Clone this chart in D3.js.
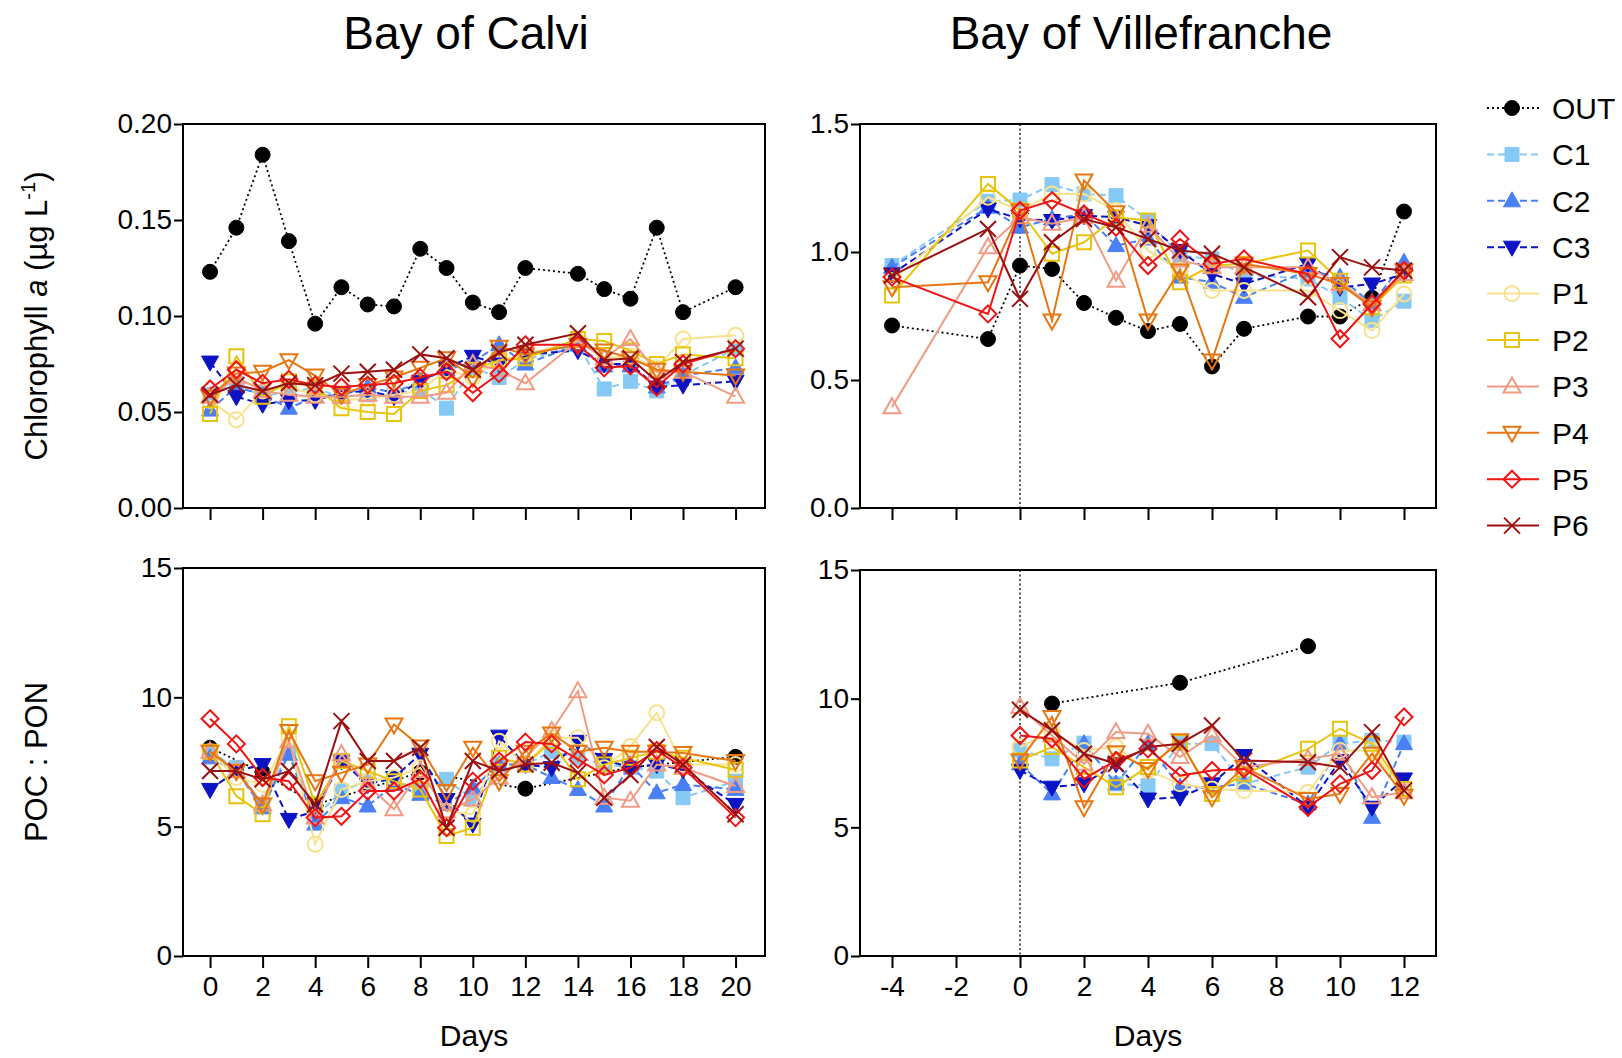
<!DOCTYPE html>
<html>
<head>
<meta charset="utf-8">
<script src="https://cdn.jsdelivr.net/npm/d3@7"></script>
<style>
body { margin: 0; background: #fff; }
svg text { font-family: "Liberation Sans", Arial, sans-serif; fill: #000; }
</style>
</head>
<body>
<svg id="chart" width="1622" height="1058"></svg>
<script>
// series, in drawing order
const seriesNames = ["OUT", "C1", "C2", "C3", "P1", "P2", "P3", "P4", "P5", "P6"]

// Bay of Calvi, chlorophyll a (ug/L)
const calviChlDays = [0, 1, 2, 3, 4, 5, 6, 7, 8, 9, 10, 11, 12, 14, 15, 16, 17, 18, 20]
const calviChl = [
    [0.123, 0.146, 0.184, 0.139, 0.096, 0.115, 0.106, 0.105, 0.135, 0.125, 0.107, 0.102, 0.125, 0.122, 0.114, 0.109, 0.146, 0.102, 0.115],
    [0.059, 0.065, 0.058, 0.061, 0.062, 0.058, 0.059, 0.059, 0.062, 0.052, 0.073, 0.068, 0.077, 0.085, 0.062, 0.066, 0.061, 0.069, 0.083],
    [0.051, 0.063, 0.059, 0.052, 0.058, 0.059, 0.063, 0.060, 0.066, 0.072, 0.076, 0.085, 0.075, 0.085, 0.074, 0.074, 0.063, 0.069, 0.073],
    [0.076, 0.058, 0.054, 0.056, 0.056, 0.060, 0.061, 0.058, 0.066, 0.073, 0.079, 0.075, 0.080, 0.082, 0.075, 0.075, 0.063, 0.064, 0.066],
    [0.056, 0.046, 0.061, 0.063, 0.059, 0.056, 0.057, 0.059, 0.061, 0.072, 0.068, 0.077, 0.080, 0.087, 0.078, 0.079, 0.073, 0.088, 0.090],
    [0.049, 0.079, 0.058, 0.066, 0.063, 0.052, 0.050, 0.049, 0.061, 0.064, 0.072, 0.077, 0.078, 0.088, 0.087, 0.082, 0.075, 0.080, 0.078],
    [0.058, 0.068, 0.061, 0.059, 0.058, 0.058, 0.059, 0.058, 0.058, 0.060, 0.075, 0.072, 0.065, 0.087, 0.078, 0.088, 0.071, 0.071, 0.058],
    [0.058, 0.070, 0.071, 0.077, 0.069, 0.059, 0.064, 0.068, 0.073, 0.078, 0.068, 0.084, 0.080, 0.085, 0.082, 0.078, 0.072, 0.071, 0.069],
    [0.062, 0.072, 0.065, 0.067, 0.064, 0.063, 0.064, 0.065, 0.068, 0.071, 0.060, 0.070, 0.085, 0.085, 0.073, 0.074, 0.063, 0.075, 0.083],
    [0.059, 0.064, 0.061, 0.065, 0.064, 0.070, 0.071, 0.072, 0.080, 0.078, 0.072, 0.081, 0.085, 0.091, 0.077, 0.078, 0.066, 0.076, 0.083]
]

// Bay of Calvi, POC : PON
const calviPocDays = [0, 1, 2, 3, 4, 5, 6, 7, 8, 9, 10, 11, 12, 13, 14, 15, 16, 17, 18, 20]
const calviPoc = [
    [8.05, null, 7.1, null, 5.85, null, null, null, 7.1, null, null, null, 6.47, null, null, null, 7.3, null, null, 7.7],
    [7.9, 7.28, 5.86, 7.9, 5.35, 6.38, 6.76, 6.76, 6.44, 6.83, 6.05, 7.4, 7.4, 7.9, 7.66, 7.4, 7.28, 7.15, 6.12, 6.76],
    [7.66, 7.15, 5.73, 7.8, 5.1, 6.12, 5.8, 6.63, 6.25, 5.86, 6.5, 7.4, 7.4, 6.9, 6.44, 5.8, 7.4, 6.31, 6.63, 6.44],
    [6.44, 7.15, 7.4, 5.28, 5.6, 7.54, 6.63, 6.9, 7.8, 6.05, 5.1, 8.5, 7.4, 7.28, 8.3, 7.6, 7.28, 7.4, 7.2, 5.86],
    [7.9, 6.9, 6.63, 8.44, 4.32, 6.44, 6.76, 6.9, 7.28, 5.6, 5.48, 8.3, 7.4, 8.44, 8.44, 7.28, 8.1, 9.4, 7.4, 7.4],
    [7.9, 6.18, 5.48, 8.88, 5.86, 7.54, 7.15, 6.76, 6.44, 4.64, 4.96, 7.66, 7.4, 8.3, 6.83, 7.4, 7.66, 7.9, 7.66, 7.2],
    [7.9, 7.15, 5.86, 8.3, 5.35, 7.8, 6.6, 5.67, 7.15, 5.6, 6.05, 6.9, 7.66, 8.7, 10.24, 6.12, 6.0, 7.4, 7.28, 6.57],
    [7.9, 7.15, 5.86, 8.7, 6.76, 7.08, 7.4, 8.95, 8.1, 6.38, 8.05, 6.76, 7.9, 8.6, 7.9, 8.05, 7.9, 7.9, 7.85, 7.54],
    [9.17, 8.2, 6.9, 6.76, 5.35, 5.4, 6.38, 6.38, 6.83, 4.96, 6.76, 7.54, 8.27, 8.2, 7.6, 7.0, 7.28, 7.95, 7.28, 5.35],
    [7.15, 7.15, 6.83, 7.15, 5.86, 9.08, 7.54, 7.54, 8.05, 4.96, 7.54, 7.15, 7.4, 7.47, 7.08, 6.12, 7.0, 8.08, 7.4, 5.48]
]

// Bay of Villefranche, chlorophyll a (ug/L)
const villeChlDays = [-4, -1, 0, 1, 2, 3, 4, 5, 6, 7, 9, 10, 11, 12]
const villeChl = [
    [0.713, 0.660, 0.947, 0.934, 0.801, 0.743, 0.691, 0.719, 0.553, 0.700, 0.748, 0.748, 0.821, 1.158],
    [0.947, 1.198, 1.203, 1.263, 1.227, 1.220, 1.123, 0.986, 0.973, 0.912, 0.895, 0.823, 0.732, 0.808],
    [0.940, 1.175, 1.097, 1.129, 1.149, 1.025, 1.051, 0.902, 0.882, 0.823, 0.928, 0.902, 0.797, 0.960],
    [0.914, 1.168, 1.129, 1.123, 1.142, 1.136, 1.103, 1.006, 0.914, 0.875, 0.954, 0.862, 0.875, 0.914],
    [0.888, 1.214, 1.162, 1.227, 1.227, 1.162, 1.006, 0.928, 0.850, 0.850, 0.850, 0.771, 0.693, 0.836],
    [0.830, 1.266, 1.162, 0.993, 1.038, 1.136, 1.123, 0.882, 0.947, 0.954, 1.006, 0.888, 0.784, 0.908],
    [0.394, 1.019, 1.136, 1.110, 1.136, 0.888, 1.103, 0.967, 0.940, 0.940, 0.940, 0.875, 0.797, 0.914],
    [0.862, 0.882, 1.162, 0.732, 1.279, 1.155, 0.732, 0.928, 0.576, 0.954, 0.914, 0.875, 0.784, 0.928],
    [0.902, 0.758, 1.162, 1.201, 1.149, 1.097, 0.947, 1.051, 0.954, 0.973, 0.914, 0.661, 0.797, 0.928],
    [0.908, 1.090, 0.817, 1.038, 1.129, 1.097, 1.051, 1.006, 0.993, 0.940, 0.823, 0.980, 0.940, 0.928]
]

// Bay of Villefranche, POC : PON
const villePocDays = [0, 1, 2, 3, 4, 5, 6, 7, 9, 10, 11, 12]
const villePoc = [
    [null, 9.81, null, null, null, 10.62, null, null, 12.04, null, null, null],
    [7.99, 7.66, 8.27, 6.69, 6.62, 8.25, 8.25, 6.69, 7.34, 8.25, 8.38, 8.31],
    [7.47, 6.30, 8.25, 6.69, 8.25, 6.56, 6.56, 6.69, 5.91, 8.25, 5.39, 8.25],
    [7.21, 6.56, 6.69, 7.47, 6.10, 6.17, 6.69, 7.79, 5.78, 7.60, 5.78, 6.88],
    [8.12, 8.70, 7.99, 8.12, 7.21, 6.69, 6.49, 6.43, 6.36, 7.99, 7.99, 6.43],
    [7.60, 8.12, 7.34, 6.56, 7.34, 8.31, 6.30, 7.08, 8.05, 8.83, 8.25, 6.49],
    [9.68, 8.57, 7.47, 8.70, 8.64, 7.73, 8.57, 7.34, 7.66, 7.86, 6.17, 6.36],
    [7.60, 9.29, 5.78, 7.92, 7.27, 8.38, 6.17, 7.34, 6.10, 6.30, 7.86, 6.23],
    [8.57, 8.44, 6.88, 7.60, 8.05, 7.01, 7.21, 7.27, 5.78, 6.69, 7.21, 9.29],
    [9.57, 8.77, 7.86, 7.47, 8.12, 8.25, 8.96, 7.60, 7.53, 7.34, 8.70, 6.43]
]

const calviXTicks = d3.range(0, 21, 2)
const villeXTicks = d3.range(-4, 13, 2)
const chlCalviYTicks = [0, 0.05, 0.10, 0.15, 0.20]
const chlVilleYTicks = [0, 0.5, 1.0, 1.5]
const pocYTicks = [0, 5, 10, 15]

// styles
const seriesColors = ["#000000", "#86c9f5", "#4a7ff5", "#0b13c4", "#f9e28e", "#e8c40c", "#f29b83", "#e67712", "#f01414", "#9b1010"]
const seriesDash = ["2,3", "7,4", "7,4", "7,4", null, null, null, null, null, null]
const seriesShapes = ["circle", "square", "triangle", "triangleDown", "circle", "square", "triangle", "triangleDown", "diamond", "x"]
const seriesFilled = [true, true, true, true, false, false, false, false, false, false]

var markerPath = function (shape) {
    switch (shape) {
        case "circle": return "M7.5,0A7.5,7.5,0,1,1,-7.5,0A7.5,7.5,0,1,1,7.5,0Z"
        case "square": return "M-7,-7H7V7H-7Z"
        case "triangle": return "M0,-9L8.5,6L-8.5,6Z"
        case "triangleDown": return "M0,9L8.5,-6L-8.5,-6Z"
        case "diamond": return "M0,-8.5L8.5,0L0,8.5L-8.5,0Z"
        case "x": return "M-8,-8L8,8M-8,8L8,-8"
    }
}

const svg = d3.select("#chart")
const font = "'Liberation Sans', Arial, sans-serif"

const panels = [
    {left: 183, right: 765, top: 124, bottom: 508, xDomain: [-1.03, 21.12], yDomain: [0, 0.2],
     days: calviChlDays, values: calviChl, xTicks: calviXTicks, yTicks: chlCalviYTicks, fmt: ".2f", xLabels: false, zeroLine: false},
    {left: 860, right: 1436, top: 124, bottom: 508, xDomain: [-5, 13], yDomain: [0, 1.5],
     days: villeChlDays, values: villeChl, xTicks: villeXTicks, yTicks: chlVilleYTicks, fmt: ".1f", xLabels: false, zeroLine: true},
    {left: 183, right: 765, top: 568, bottom: 956, xDomain: [-1.03, 21.12], yDomain: [0, 15],
     days: calviPocDays, values: calviPoc, xTicks: calviXTicks, yTicks: pocYTicks, fmt: "d", xLabels: true, zeroLine: false},
    {left: 860, right: 1436, top: 570, bottom: 956, xDomain: [-5, 13], yDomain: [0, 15],
     days: villePocDays, values: villePoc, xTicks: villeXTicks, yTicks: pocYTicks, fmt: "d", xLabels: true, zeroLine: true}
]

panels.forEach(function (p) {
    let x = d3.scaleLinear().domain(p.xDomain).range([p.left, p.right])
    let y = d3.scaleLinear().domain(p.yDomain).range([p.bottom, p.top])
    let g = svg.append("g")

    let yAxis = g.append("g")
        .attr("transform", "translate(" + p.left + ",0)")
        .call(d3.axisLeft(y).tickValues(p.yTicks).tickFormat(d3.format(p.fmt)).tickSize(9).tickPadding(2))
    let xAxis = g.append("g")
        .attr("transform", "translate(0," + p.bottom + ")")
        .call(d3.axisBottom(x).tickValues(p.xTicks).tickSize(12).tickPadding(8)
            .tickFormat(p.xLabels ? (d) => String(d) : ""))
    ;[yAxis, xAxis].forEach(function (a) {
        a.select(".domain").remove()
        a.attr("font-size", 28).attr("font-family", font)
        a.selectAll("line").attr("stroke-width", 2)
        a.selectAll("text").style("font-size", "28px")
    })

    g.append("rect")
        .attr("x", p.left).attr("y", p.top)
        .attr("width", p.right - p.left).attr("height", p.bottom - p.top)
        .attr("fill", "none").attr("stroke", "#000").attr("stroke-width", 2)

    if (p.zeroLine) {
        g.append("line")
            .attr("x1", x(0)).attr("x2", x(0))
            .attr("y1", p.top).attr("y2", p.bottom)
            .attr("stroke", "#000").attr("stroke-width", 1.3)
            .attr("stroke-dasharray", "2,2.5")
    }

    let line = d3.line()
        .x((d) => x(d.x))
        .y((d) => y(d.y))

    seriesNames.forEach(function (name, i) {
        let pts = p.days.map((d, j) => ({x: d, y: p.values[i][j]})).filter((d) => d.y != null)
        let sg = g.append("g").classed("series-" + name, true)
        sg.append("path").datum(pts)
            .attr("d", line)
            .attr("fill", "none")
            .attr("stroke", seriesColors[i])
            .attr("stroke-width", i == 0 ? 1.8 : 2)
            .attr("stroke-dasharray", seriesDash[i])
        sg.selectAll(".mark").data(pts).enter().append("path")
            .classed("mark", true)
            .attr("transform", (d) => "translate(" + x(d.x) + "," + y(d.y) + ")")
            .attr("d", markerPath(seriesShapes[i]))
            .attr("fill", seriesFilled[i] ? seriesColors[i] : "none")
            .attr("stroke", seriesColors[i])
            .attr("stroke-width", seriesFilled[i] ? 1 : 2)
    })
})

// titles
svg.append("text").attr("x", 466).attr("y", 49).attr("text-anchor", "middle")
    .style("font-size", "46px").text("Bay of Calvi")
svg.append("text").attr("x", 1141).attr("y", 49).attr("text-anchor", "middle")
    .style("font-size", "46px").text("Bay of Villefranche")

// axis titles
let chlLabel = svg.append("text")
    .attr("transform", "translate(47,316) rotate(-90)")
    .attr("text-anchor", "middle")
    .style("font-size", "31px")
chlLabel.append("tspan").text("Chlorophyll ")
chlLabel.append("tspan").style("font-style", "italic").text("a")
chlLabel.append("tspan").text(" (\u00b5g L")
chlLabel.append("tspan").attr("dy", -12).style("font-size", "20px").text("-1")
chlLabel.append("tspan").attr("dy", 12).text(")")

svg.append("text")
    .attr("transform", "translate(47,762) rotate(-90)")
    .attr("text-anchor", "middle")
    .style("font-size", "31px")
    .text("POC : PON")

svg.append("text").attr("x", 474).attr("y", 1046).attr("text-anchor", "middle")
    .style("font-size", "30px").text("Days")
svg.append("text").attr("x", 1148).attr("y", 1046).attr("text-anchor", "middle")
    .style("font-size", "30px").text("Days")

// legend
let legend = svg.append("g").classed("legend", true)
seriesNames.forEach(function (name, i) {
    let row = legend.append("g").attr("transform", "translate(0," + (108 + i * 46.4) + ")")
    row.append("line")
        .attr("x1", 1487).attr("x2", 1539)
        .attr("stroke", seriesColors[i])
        .attr("stroke-width", i == 0 ? 1.8 : 2)
        .attr("stroke-dasharray", seriesDash[i])
    row.append("path")
        .attr("transform", "translate(1512,0)")
        .attr("d", markerPath(seriesShapes[i]))
        .attr("fill", seriesFilled[i] ? seriesColors[i] : "none")
        .attr("stroke", seriesColors[i])
        .attr("stroke-width", seriesFilled[i] ? 1 : 2)
    row.append("text")
        .attr("x", 1552).attr("dy", "0.36em")
        .style("font-size", "30px")
        .text(name)
})
</script>
</body>
</html>
